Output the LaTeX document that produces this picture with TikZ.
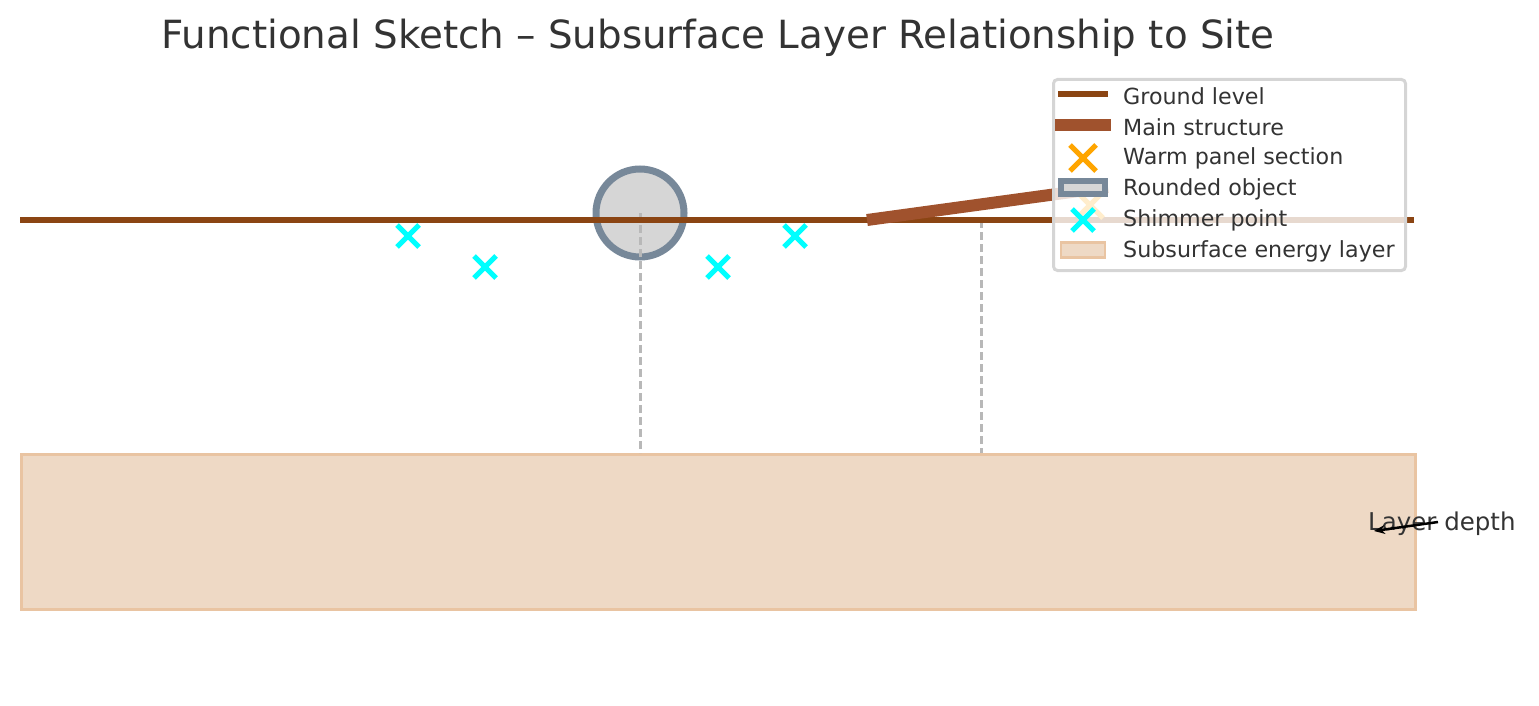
\documentclass[tikz,border=0pt]{standalone}
\usepackage{fontspec}
\setmainfont{DejaVu Sans}
\usetikzlibrary{arrows.meta}
\definecolor{ground}{HTML}{8B4513}
\definecolor{struct}{HTML}{A0522D}
\definecolor{txt}{HTML}{333333}
\definecolor{layerfill}{HTML}{EED9C5}
\definecolor{layeredge}{HTML}{E9C4A2}
\definecolor{objfill}{HTML}{D6D6D6}
\definecolor{objedge}{HTML}{778899}
\definecolor{dashc}{HTML}{B8B8B8}
\definecolor{shimmer}{HTML}{00FFFF}
\definecolor{warm}{HTML}{FFA500}
\definecolor{legedge}{HTML}{D5D5D5}
\tikzset{
  groundline/.style={draw=ground,line width=5.5pt},
  structline/.style={draw=struct,line width=12pt},
  guide/.style={draw=dashc,line width=3pt,dash pattern=on 8pt off 4pt},
  cross/.style={draw=#1,line width=5pt},
  lbl/.style={text=txt,font=\fontsize{22.2}{26}\selectfont,anchor=west,inner sep=0pt},
}
\newcommand{\xmark}[4]{\draw[cross=#3] (#1-#4,#2-#4) -- (#1+#4,#2+#4) (#1-#4,#2+#4) -- (#1+#4,#2-#4);}
\begin{document}
\begin{tikzpicture}[x=1pt,y=-1pt]
\useasboundingbox (0,0) rectangle (1539,706);
% title
\node[text=txt,font=\fontsize{38.8}{46}\selectfont,inner sep=0pt] (title) at (718,38) {Functional Sketch – Subsurface Layer Relationship to Site};
% layer
\node[draw=layeredge,fill=layerfill,line width=2.5pt,minimum width=1394pt,minimum height=155pt,inner sep=0pt,anchor=north west] (layer) at (20,453) {};
% rounded object
\node[circle,draw=objedge,fill=objfill,line width=7pt,minimum size=88pt,inner sep=0pt] (obj) at (640,213) {};
% guides
\coordinate (g1top) at (640,213);
\coordinate (g1bot) at (640,453);
\coordinate (g2top) at (981,220);
\coordinate (g2bot) at (981,453);
\draw[guide] (g1top) -- (g1bot);
\draw[guide] (g2top) -- (g2bot);
% ground
\coordinate (gl) at (20,220);
\coordinate (gr) at (1414,220);
\draw[groundline] (gl) -- (gr);
% main structure
\coordinate (s1) at (867,220);
\coordinate (s2) at (1108,187);
\draw[structline] (s1) -- (s2);
% warm panel
\xmark{1090}{205}{warm}{13}
% shimmer points
\xmark{408}{236}{shimmer}{11}
\xmark{485}{267}{shimmer}{11}
\xmark{718}{267}{shimmer}{11}
\xmark{795}{236}{shimmer}{11}
% annotation
\node[text=txt,font=\fontsize{24.5}{29}\selectfont,inner sep=0pt,anchor=west] (depth) at (1368,524) {Layer depth};
\coordinate (a1) at (1438,522);
\coordinate (a2) at (1374,531);
\draw[-{Stealth[length=11pt,width=9pt]},line width=2.5pt] (a1) -- (a2);
% legend
\node[draw=legedge,fill=white,fill opacity=0.8,line width=3pt,rounded corners=4pt,minimum width=352pt,minimum height=191pt,inner sep=0pt,anchor=north west] (legend) at (1052,78) {};
\draw[draw=ground,line width=5.5pt] (1058,94) -- (1108,94);
\draw[draw=struct,line width=12pt] (1055,125) -- (1111,125);
\xmark{1083}{158}{warm}{13}
\node[draw=objedge,fill=objfill,line width=6pt,minimum width=44pt,minimum height=13pt,inner sep=0pt] (legobj) at (1083,187) {};
\xmark{1083}{220}{shimmer}{11}
\node[draw=layeredge,fill=layerfill,line width=2.5pt,minimum width=44pt,minimum height=15pt,inner sep=0pt] (leglayer) at (1083,250) {};
\node[lbl] (t1) at (1123,96) {Ground level};
\node[lbl] (t2) at (1123,127) {Main structure};
\node[lbl] (t3) at (1123,158) {Warm panel section};
\node[lbl] (t4) at (1123,189) {Rounded object};
\node[lbl] (t5) at (1123,220) {Shimmer point};
\node[lbl] (t6) at (1123,251) {Subsurface energy layer};
\end{tikzpicture}
\end{document}
